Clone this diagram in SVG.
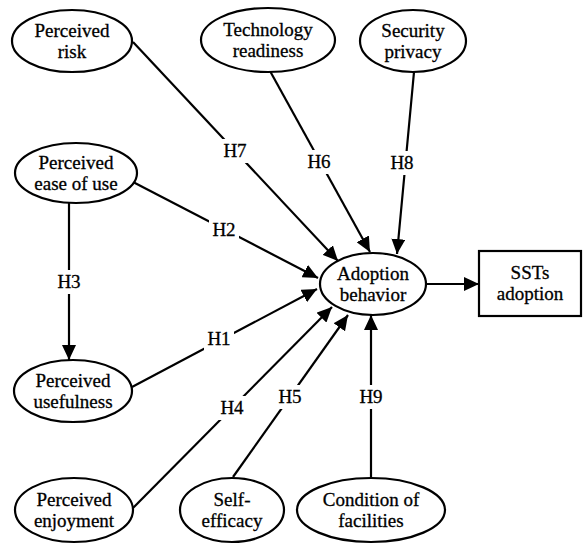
<svg xmlns="http://www.w3.org/2000/svg" width="583" height="544" viewBox="0 0 583 544">
<style>
.n ellipse,.n rect{fill:#fff;stroke:#000;stroke-width:2.2}
text{font-family:"Liberation Serif","Times New Roman",serif;font-size:19px;fill:#000;text-anchor:middle;stroke:#000;stroke-width:0.3}
.c line{stroke:#000;stroke-width:2.2}
.lb rect{fill:#fff}
</style>
<defs>
<marker id="a" markerUnits="userSpaceOnUse" markerWidth="16" markerHeight="14" refX="15" refY="7" orient="auto">
<path d="M0,0 L15,7 L0,14 z" fill="#000"/>
</marker>
</defs>
<g class="c" id="connectors">
<line x1="133" y1="42" x2="338" y2="261" marker-end="url(#a)"/>
<line x1="270" y1="71" x2="370" y2="252" marker-end="url(#a)"/>
<line x1="414" y1="72" x2="397" y2="254" marker-end="url(#a)"/>
<line x1="133" y1="182" x2="318" y2="278" marker-end="url(#a)"/>
<line x1="69" y1="203" x2="69" y2="360" marker-end="url(#a)"/>
<line x1="132" y1="387" x2="317" y2="289" marker-end="url(#a)"/>
<line x1="133" y1="508" x2="332" y2="307" marker-end="url(#a)"/>
<line x1="233" y1="477" x2="348" y2="315" marker-end="url(#a)"/>
<line x1="371" y1="477" x2="371" y2="315" marker-end="url(#a)"/>
<line x1="426" y1="284" x2="479" y2="284" marker-end="url(#a)"/>
<g class="lb">
<rect x="220" y="139" width="30" height="24"/><text x="235" y="157">H7</text>
<rect x="304" y="150" width="30" height="24"/><text x="319" y="168">H6</text>
<rect x="388" y="151" width="30" height="24"/><text x="402" y="169">H8</text>
<rect x="209" y="218" width="30" height="24"/><text x="224" y="236">H2</text>
<rect x="54" y="270" width="30" height="24"/><text x="69" y="288">H3</text>
<rect x="204" y="327" width="30" height="24"/><text x="219" y="345">H1</text>
<rect x="217" y="396" width="30" height="24"/><text x="232" y="414">H4</text>
<rect x="275" y="385" width="30" height="24"/><text x="290" y="403">H5</text>
<rect x="356" y="385" width="30" height="24"/><text x="371" y="403">H9</text>
</g>
</g>
<g class="n" id="perceived-risk"><ellipse cx="72" cy="41" rx="60" ry="31"/><text x="72" y="37">Perceived</text><text x="72" y="58">risk</text></g>
<g class="n" id="technology-readiness"><ellipse cx="268" cy="40" rx="67" ry="32"/><text x="268" y="36">Technology</text><text x="268" y="57">readiness</text></g>
<g class="n" id="security-privacy"><ellipse cx="413" cy="41" rx="53" ry="31"/><text x="413" y="37">Security</text><text x="413" y="58">privacy</text></g>
<g class="n" id="perceived-ease"><ellipse cx="76" cy="173" rx="61" ry="30"/><text x="76" y="169">Perceived</text><text x="76" y="190">ease of use</text></g>
<g class="n" id="perceived-usefulness"><ellipse cx="73" cy="391" rx="59" ry="31"/><text x="73" y="387">Perceived</text><text x="73" y="408">usefulness</text></g>
<g class="n" id="perceived-enjoyment"><ellipse cx="74" cy="510" rx="59" ry="32"/><text x="74" y="506">Perceived</text><text x="74" y="527">enjoyment</text></g>
<g class="n" id="self-efficacy"><ellipse cx="232" cy="510" rx="52" ry="32"/><text x="232" y="506">Self-</text><text x="232" y="527">efficacy</text></g>
<g class="n" id="condition-facilities"><ellipse cx="371" cy="510" rx="74" ry="32"/><text x="371" y="506">Condition of</text><text x="371" y="527">facilities</text></g>
<g class="n" id="adoption-behavior"><ellipse cx="373" cy="284" rx="53" ry="31"/><text x="373" y="280">Adoption</text><text x="373" y="301">behavior</text></g>
<g class="n" id="ssts-adoption"><rect x="479" y="251" width="102" height="65"/><text x="530" y="279">SSTs</text><text x="530" y="300">adoption</text></g>
</svg>
